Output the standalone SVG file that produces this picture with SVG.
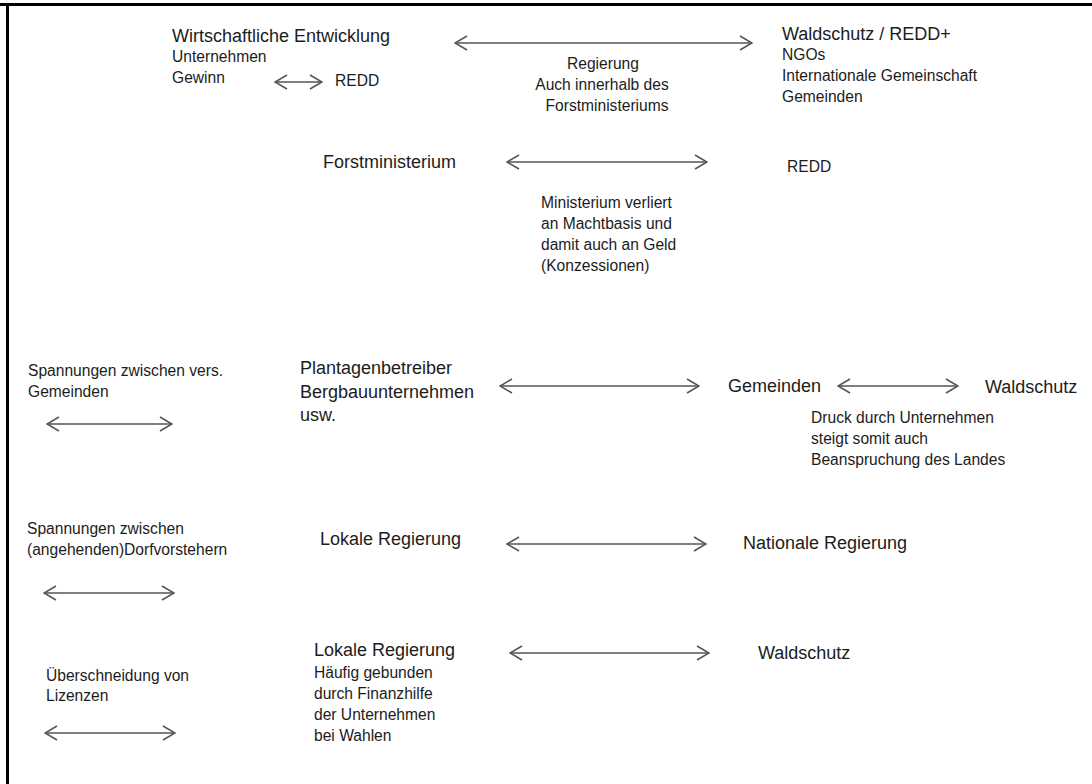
<svg xmlns="http://www.w3.org/2000/svg" width="1092" height="784" viewBox="0 0 1092 784">
<style>
text{font-family:"Liberation Sans",Arial,sans-serif;fill:#1c1c1c}
.l{font-size:18px}
.s{font-size:15.6px}
.c{text-anchor:middle}
.a{stroke:#555;stroke-width:1.6;fill:none;marker-start:url(#h);marker-end:url(#h)}
</style>
<defs>
<marker id="h" viewBox="0 0 14 16" refX="13" refY="8" markerWidth="14" markerHeight="16" markerUnits="userSpaceOnUse" orient="auto-start-reverse">
<path d="M1,1 L13,8 L1,15" fill="none" stroke="#555" stroke-width="1.6"/>
</marker>
</defs>
<rect width="1092" height="784" fill="#fff"/>
<g id="frame" stroke="#000" stroke-width="3" fill="none">
<line x1="0" y1="4.5" x2="1092" y2="4.5"/>
<line x1="7.5" y1="4" x2="7.5" y2="784"/>
</g>
<g id="connectors">
<line class="a" x1="275" y1="82" x2="322" y2="82"/>
<line class="a" x1="455" y1="43" x2="752" y2="43"/>
<line class="a" x1="507" y1="162" x2="707" y2="162"/>
<line class="a" x1="47" y1="424" x2="172" y2="424"/>
<line class="a" x1="500" y1="386" x2="699" y2="386"/>
<line class="a" x1="838" y1="386" x2="958" y2="386"/>
<line class="a" x1="44" y1="593" x2="174" y2="593"/>
<line class="a" x1="507" y1="544" x2="706" y2="544"/>
<line class="a" x1="45" y1="733" x2="175" y2="733"/>
<line class="a" x1="510" y1="653" x2="709" y2="653"/>
</g>
<g id="wirtschaft">
<text class="l" x="172" y="42">Wirtschaftliche Entwicklung</text>
<text class="s" x="172" y="62">Unternehmen</text>
<text class="s" x="172" y="83">Gewinn</text>
</g>
<g id="redd1"><text class="s" x="335" y="86">REDD</text></g>
<g id="regierung">
<text class="s c" x="603" y="69">Regierung</text>
<text class="s c" x="602" y="90">Auch innerhalb des</text>
<text class="s c" x="607" y="111">Forstministeriums</text>
</g>
<g id="waldschutz1">
<text class="l" x="782" y="40">Waldschutz / REDD+</text>
<text class="s" x="782" y="60">NGOs</text>
<text class="s" x="782" y="81">Internationale Gemeinschaft</text>
<text class="s" x="782" y="102">Gemeinden</text>
</g>
<g id="forstministerium"><text class="l" x="323" y="168">Forstministerium</text></g>
<g id="redd2"><text class="s" x="787" y="172">REDD</text></g>
<g id="ministerium-note">
<text class="s" x="541" y="208">Ministerium verliert</text>
<text class="s" x="541" y="229">an Machtbasis und</text>
<text class="s" x="541" y="250">damit auch an Geld</text>
<text class="s" x="541" y="271">(Konzessionen)</text>
</g>
<g id="spannungen1">
<text class="s" x="28" y="376">Spannungen zwischen vers.</text>
<text class="s" x="28" y="397">Gemeinden</text>
</g>
<g id="plantagen">
<text class="l" x="300" y="374">Plantagenbetreiber</text>
<text class="l" x="300" y="398">Bergbauunternehmen</text>
<text class="l" x="300" y="421">usw.</text>
</g>
<g id="gemeinden"><text class="l" x="728" y="392">Gemeinden</text></g>
<g id="waldschutz2"><text class="l" x="985" y="393">Waldschutz</text></g>
<g id="druck">
<text class="s" x="811" y="423">Druck durch Unternehmen</text>
<text class="s" x="811" y="444">steigt somit auch</text>
<text class="s" x="811" y="465">Beanspruchung des Landes</text>
</g>
<g id="spannungen2">
<text class="s" x="27" y="534">Spannungen zwischen</text>
<text class="s" x="27" y="555">(angehenden)Dorfvorstehern</text>
</g>
<g id="lokale1"><text class="l" x="320" y="545">Lokale Regierung</text></g>
<g id="nationale"><text class="l" x="743" y="549">Nationale Regierung</text></g>
<g id="ueberschneidung">
<text class="s" x="46" y="681">Überschneidung von</text>
<text class="s" x="46" y="701">Lizenzen</text>
</g>
<g id="lokale2">
<text class="l" x="314" y="656">Lokale Regierung</text>
<text class="s" x="314" y="678">Häufig gebunden</text>
<text class="s" x="314" y="699">durch Finanzhilfe</text>
<text class="s" x="314" y="720">der Unternehmen</text>
<text class="s" x="314" y="741">bei Wahlen</text>
</g>
<g id="waldschutz3"><text class="l" x="758" y="659">Waldschutz</text></g>
</svg>
